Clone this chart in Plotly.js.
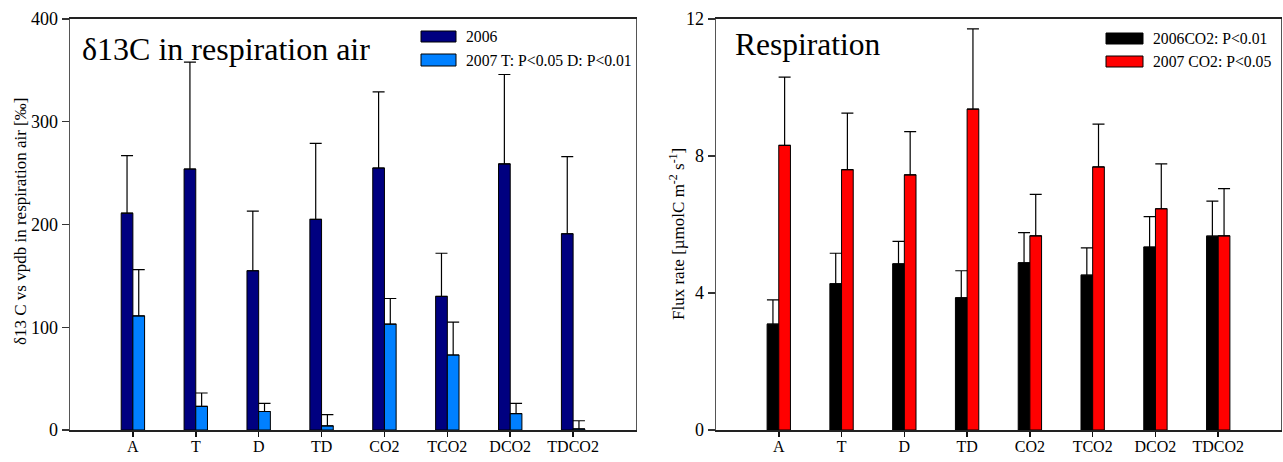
<!DOCTYPE html>
<html>
<head>
<meta charset="utf-8">
<script src="https://cdn.plot.ly/plotly-3.0.1.min.js"></script>
<style>html,body{margin:0;padding:0;background:#fff;}</style>
</head>
<body>
<div id="chart" style="width:1283px;height:462px;"></div>
<script>
// ---- data ----
const categories = ["A", "T", "D", "TD", "CO2", "TCO2", "DCO2", "TDCO2"];

// left panel: delta13C in respiration air
const d13c2006 = [211, 254, 155, 205, 255, 130, 259, 191];
const d13c2006Err = [56, 104, 58, 74, 74, 42, 87, 75];
const d13c2007 = [111, 23, 18, 4, 103, 73, 16, 1];
const d13c2007Err = [45, 13, 8, 11, 25, 32, 10, 8];

// right panel: respiration flux
const resp2006 = [3.09, 4.27, 4.85, 3.86, 4.88, 4.52, 5.34, 5.66];
const resp2006Err = [0.71, 0.89, 0.66, 0.79, 0.88, 0.80, 0.89, 1.02];
const resp2007 = [8.31, 7.60, 7.45, 9.37, 5.67, 7.68, 6.46, 5.67];
const resp2007Err = [1.99, 1.65, 1.26, 2.34, 1.21, 1.25, 1.31, 1.38];

const leftTickVals = [0, 100, 200, 300, 400];
const rightTickVals = [0, 4, 8, 12];

const leftLegend = ["2006", "2007 T: P<0.05 D: P<0.01"];
const rightLegend = ["2006CO2: P<0.01", "2007 CO2: P<0.05"];
const leftYTitle = "δ13 C vs vpdb in respiration air [‰]";
const rightYTitle = "Flux rate [µmolC m<sup>-2</sup> s<sup>-1</sup>]";

// ---- layout helpers ----
const W = 1283, H = 462;
const px = v => v / W;
const py = v => 1 - v / H;
const FONT = "Liberation Serif, Times New Roman, serif";
const xi = categories.map((c, i) => i);

function barTrace(y, err, color, xa, ya) {
  return {
    type: "bar", x: xi, y: y, xaxis: xa, yaxis: ya,
    marker: {color: color, line: {color: "#000", width: 1}},
    error_y: {type: "data", array: err, arrayminus: err.map(() => 0), symmetric: false,
              color: "#000", thickness: 1.2, width: 6},
    showlegend: false, hoverinfo: "y"
  };
}

const traces = [
  barTrace(d13c2006, d13c2006Err, "#000080", "x", "y"),
  barTrace(d13c2007, d13c2007Err, "#0080ff", "x", "y"),
  barTrace(resp2006, resp2006Err, "#000000", "x2", "y2"),
  barTrace(resp2007, resp2007Err, "#ff0000", "x2", "y2")
];

const ydom = [py(430), py(19)];
function xaxisDef(dom, anchor) {
  return {
    domain: dom, anchor: anchor, range: [-1, 8],
    tickmode: "array", tickvals: xi, ticktext: categories,
    ticks: "outside", ticklen: 5, tickwidth: 1.5, tickcolor: "#111",
    ticklabelstandoff: -4,
    showline: true, linecolor: "#222", linewidth: 2, mirror: true,
    showgrid: false, zeroline: false,
    tickfont: {family: FONT, size: 16, color: "#000"}
  };
}
function yaxisDef(anchor, range, vals) {
  return {
    domain: ydom, anchor: anchor, range: range,
    tickmode: "array", tickvals: vals, ticktext: vals.map(String),
    ticks: "outside", ticklen: 7, tickwidth: 1.2, tickcolor: "#333",
    showline: true, linecolor: "#555", linewidth: 1.3, mirror: true,
    showgrid: false, zeroline: false,
    tickfont: {family: FONT, size: 18, color: "#000"}
  };
}

const shapes = [];
const annotations = [];
function legendItem(x0, x1, y0, y1, color, text) {
  shapes.push({type: "rect", xref: "paper", yref: "paper",
    x0: px(x0), x1: px(x1), y0: py(y1), y1: py(y0),
    fillcolor: color, line: {color: "#000", width: 1}});
  annotations.push({xref: "paper", yref: "paper", x: px(x1 + 8), y: py((y0 + y1) / 2),
    xanchor: "left", yanchor: "middle", showarrow: false, text: text,
    font: {family: FONT, size: 15.7, color: "#000"}});
}
legendItem(421, 456, 31, 42, "#000080", leftLegend[0]);
legendItem(421, 456, 54, 66, "#0080ff", leftLegend[1]);
legendItem(1106, 1143, 33, 44, "#000000", rightLegend[0]);
legendItem(1106, 1143, 56, 67, "#ff0000", rightLegend[1]);

annotations.push({xref: "paper", yref: "paper", x: px(80), y: py(49), xanchor: "left", yanchor: "middle",
  showarrow: false, text: "δ13C in respiration air", font: {family: FONT, size: 32, color: "#000"}});
annotations.push({xref: "paper", yref: "paper", x: px(733), y: py(44), xanchor: "left", yanchor: "middle",
  showarrow: false, text: "Respiration", font: {family: FONT, size: 31.5, color: "#000"}});

// axis titles
annotations.push({xref: "paper", yref: "paper", x: px(20), y: py(222), xanchor: "center", yanchor: "middle",
  textangle: -90, showarrow: false, text: leftYTitle, font: {family: FONT, size: 17, color: "#000"}});
annotations.push({xref: "paper", yref: "paper", x: px(677), y: py(234), xanchor: "center", yanchor: "middle",
  textangle: -90, showarrow: false, text: rightYTitle, font: {family: FONT, size: 17, color: "#000"}});

const layout = {
  width: W, height: H,
  margin: {l: 0, r: 0, t: 0, b: 0},
  paper_bgcolor: "#fff", plot_bgcolor: "#fff",
  barmode: "group", bargap: 0.628, bargroupgap: 0,
  showlegend: false,
  xaxis: xaxisDef([px(70), px(636)], "y"),
  yaxis: yaxisDef("x", [0, 400], leftTickVals),
  xaxis2: xaxisDef([px(716), px(1281)], "y2"),
  yaxis2: yaxisDef("x2", [0, 12], rightTickVals),
  shapes: shapes,
  annotations: annotations
};

Plotly.newPlot("chart", traces, layout, {displayModeBar: false, staticPlot: true});
</script>
</body>
</html>
